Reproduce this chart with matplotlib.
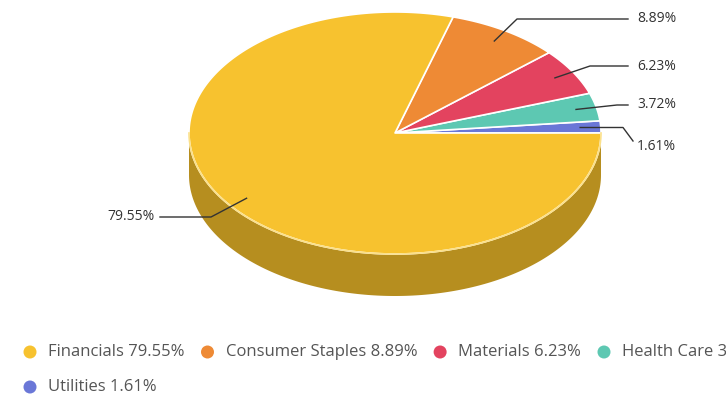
import numpy as np
import matplotlib
matplotlib.use("Agg")
import matplotlib.pyplot as plt
from matplotlib.patches import Polygon, Circle

# data
categories = ["Financials", "Consumer Staples", "Materials", "Health Care", "Utilities"]
shares = [79.55, 8.89, 6.23, 3.72, 1.61]
colors = ["#f7c22f", "#ee8a35", "#e3435f", "#5dc8b2", "#6a77d7"]
side_color = "#b68e1f"

# layout (pixels)
W, H = 726, 396
cx, cy = 395, 133
rx, ry = 206, 121
depth = 42
label_x = 637
label_y = {"Consumer Staples": 19, "Materials": 66, "Health Care": 105, "Utilities": 146}
elbow_x = {"Consumer Staples": 517, "Materials": 590, "Health Care": 617}

plt.rcParams["font.family"] = ["Open Sans", "DejaVu Sans"]

fig = plt.figure(figsize=(W / 100, H / 100), dpi=100)
ax = fig.add_axes([0, 0, 1, 1])
ax.set_xlim(0, W)
ax.set_ylim(H, 0)
ax.axis("off")


def ell(theta_deg, f=1.0, dy=0.0):
    t = np.radians(theta_deg)
    return cx + f * rx * np.cos(t), cy - f * ry * np.sin(t) + dy


# side of the cylinder (front half)
t = np.linspace(180, 360, 200)
tx, ty = ell(t)
bx, by = ell(t[::-1], dy=depth)
side = np.column_stack([np.concatenate([tx, bx]), np.concatenate([ty, by])])
ax.add_patch(Polygon(side, closed=True, facecolor=side_color, edgecolor="none", zorder=1))

# slices counter-clockwise from 3 o'clock, smallest first
order = list(range(len(categories)))[::-1]
start = 0.0
mids = {}
for i in order:
    sweep = shares[i] / sum(shares) * 360
    tt = np.linspace(start, start + sweep, max(int(sweep * 2), 4))
    px, py = ell(tt)
    poly = np.column_stack([np.concatenate([[cx], px]), np.concatenate([[cy], py])])
    ax.add_patch(Polygon(poly, closed=True, facecolor=colors[i], edgecolor="white",
                         linewidth=1.2, joinstyle="round", zorder=2))
    mids[categories[i]] = start + sweep / 2
    start += sweep

# light rim on the front edge
rx_, ry_ = ell(np.linspace(180, 360, 200))
ax.plot(rx_, ry_, color="#fbe08a", lw=1.2, zorder=3)

# data labels
for i, name in enumerate(categories):
    ax0, ay0 = ell(mids[name], f=0.9)
    txt = f"{shares[i]:.2f}%"
    if name == "Financials":
        ly = 217
        ax.plot([ax0, 211, 160], [ay0, ly, ly], color="#333333", lw=1, zorder=4)
        ax.text(155, ly, txt, ha="right", va="center", fontsize=10, color="#333333")
    else:
        ly = label_y[name]
        if name == "Utilities":
            ax.plot([ax0, 623, 633], [ay0, ay0, ly - 5], color="#333333", lw=1, zorder=4)
        else:
            ax.plot([ax0, elbow_x[name], 628], [ay0, ly, ly], color="#333333", lw=1, zorder=4)
        ax.text(label_x, ly, txt, ha="left", va="center", fontsize=10, color="#333333")

# legend
renderer = fig.canvas.get_renderer()
rows = [categories[:4], categories[4:]]
for r, row in enumerate(rows):
    x = 30
    y = 352 + r * 35
    for name in row:
        i = categories.index(name)
        ax.add_patch(Circle((x, y), 6.5, facecolor=colors[i], edgecolor="none"))
        t = ax.text(x + 18, y, f"{name} {shares[i]:.2f}%", ha="left", va="center",
                    fontsize=12, color="#555555")
        w = t.get_window_extent(renderer).width
        x = x + 18 + w + 23

fig.savefig("out.png", dpi=100)
